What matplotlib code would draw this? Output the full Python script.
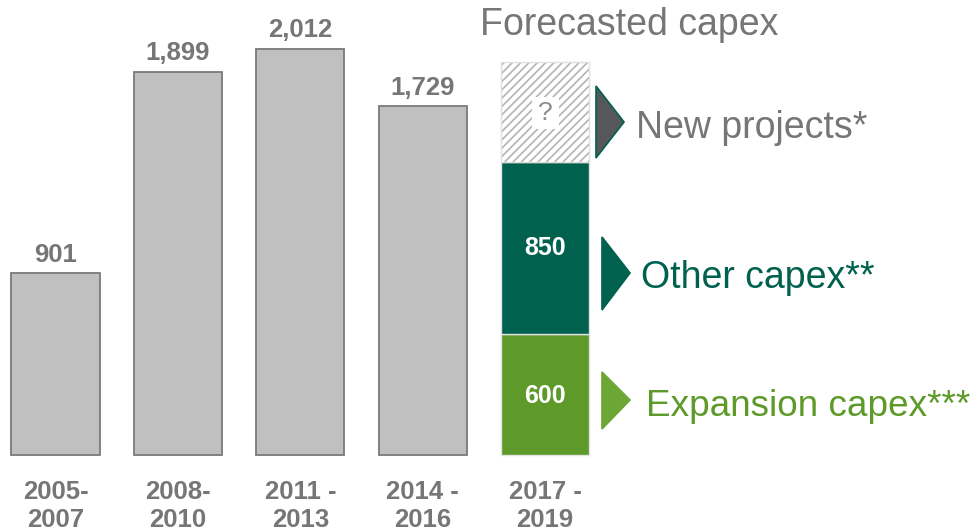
import numpy as np
import matplotlib.pyplot as plt
from matplotlib.patches import Polygon, Rectangle

plt.rcParams['font.family'] = ['Liberation Sans', 'DejaVu Sans']
plt.rcParams['hatch.linewidth'] = 1.2

# historical capex per period
periods = ['2005-\n2007', '2008-\n2010', '2011 -\n2013', '2014 -\n2016', '2017 -\n2019']
hist_values = [901, 1899, 2012, 1729]

# forecast 2017-2019, stacked from the bottom
expansion_capex = 600
other_capex = 850
new_projects_placeholder = 500   # unknown amount, drawn as a "?" block

GRAY_BAR = '#C0C0C0'
GRAY_EDGE = '#7A7A7A'
GRAY_TEXT = '#767676'
DARK_GREEN = '#00614F'
LIGHT_GREEN = '#5E9A2A'
TRI_LIGHT = '#6CA634'
TRI_GRAY = '#555759'

W, H = 974, 532
fig = plt.figure(figsize=(W / 100, H / 100), dpi=100)
ax = fig.add_axes([0, 0, 1, 1])
ax.set_xlim(-0.453, 7.504)
ax.set_ylim(-382, 2255)
ax.axis('off')


def px(x, y):
    # pixel position (from top-left) -> figure fraction
    return x / W, 1 - y / H


x = np.arange(len(periods))
bw = 0.72

ax.bar(x[:4], hist_values, width=bw, color=GRAY_BAR, edgecolor=GRAY_EDGE, linewidth=1.3)
for xi, v in zip(x[:4], hist_values):
    ax.text(xi, v + 92, f'{v:,}', ha='center', va='center', fontsize=18.5,
            fontweight='bold', color=GRAY_TEXT)

# stacked forecast bar
xf = x[4]
ax.bar(xf, expansion_capex, width=bw, color=LIGHT_GREEN, edgecolor='#E3E3E3', linewidth=1)
ax.bar(xf, other_capex, bottom=expansion_capex, width=bw, color=DARK_GREEN,
       edgecolor='#E3E3E3', linewidth=1)
ax.bar(xf, new_projects_placeholder, bottom=expansion_capex + other_capex, width=bw,
       color='white', edgecolor='#B4B4B4', hatch='////', linewidth=0)
ax.bar(xf, new_projects_placeholder, bottom=expansion_capex + other_capex, width=bw,
       color='none', edgecolor='#E0E0E0', linewidth=1)

ax.text(xf, expansion_capex / 2 - 10, f'{expansion_capex}', ha='center', va='center',
        fontsize=18, fontweight='bold', color='white')
ax.text(xf, expansion_capex + other_capex / 2, f'{other_capex}', ha='center', va='center',
        fontsize=18, fontweight='bold', color='white')

q_mid = expansion_capex + other_capex + new_projects_placeholder * 0.49
ax.add_patch(Rectangle((xf - 0.11, q_mid - 78), 0.22, 156, facecolor='white',
                       edgecolor='none', zorder=3))
ax.text(xf, q_mid, '?', ha='center', va='center', fontsize=19, color='#8C8C8C', zorder=4)

# period labels under the bars
for xi, lab in zip(x, periods):
    ax.text(xi, -125, lab, ha='center', va='top', fontsize=18.5, fontweight='bold',
            color=GRAY_TEXT, linespacing=1.2)

fig.text(*px(629, 25), 'Forecasted capex', ha='center', va='center', fontsize=27,
         color=GRAY_TEXT)

# pointer triangles and segment names
triangles = [
    ([(596, 86), (624, 122), (596, 158)], TRI_GRAY, DARK_GREEN),
    ([(602, 237), (630, 273), (602, 310)], DARK_GREEN, DARK_GREEN),
    ([(602, 372), (630, 400), (602, 429)], TRI_LIGHT, TRI_LIGHT),
]
for pts, fc, ec in triangles:
    fig.patches.append(Polygon([px(*p) for p in pts], closed=True, facecolor=fc,
                               edgecolor=ec, linewidth=1.2, transform=fig.transFigure))

fig.text(*px(636, 128), 'New projects*', ha='left', va='center', fontsize=27, color=GRAY_TEXT)
fig.text(*px(641, 278), 'Other capex**', ha='left', va='center', fontsize=27, color=DARK_GREEN)
fig.text(*px(646, 406), 'Expansion capex***', ha='left', va='center', fontsize=26.6,
         color=LIGHT_GREEN)

fig.savefig('out.png', dpi=100)
